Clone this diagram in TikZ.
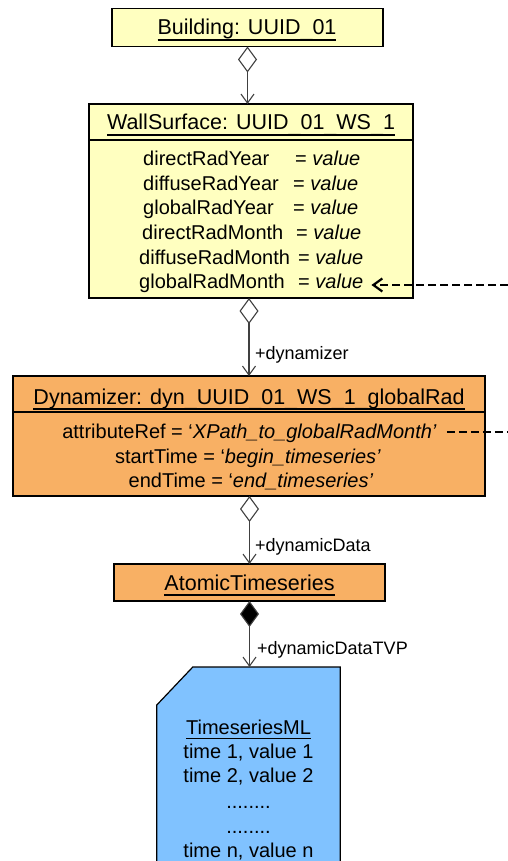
\documentclass[tikz,border=0pt]{standalone}
\usepackage{fontspec}
\setmainfont{Liberation Sans}
\usetikzlibrary{arrows.meta,calc}
\definecolor{umlyellow}{RGB}{255,255,192}
\definecolor{umlorange}{RGB}{248,176,100}
\definecolor{umlblue}{RGB}{128,194,255}
\definecolor{conn}{RGB}{64,64,64}
\newsavebox{\ulbox}
\newcommand{\myul}[1]{\sbox{\ulbox}{#1}\rlap{\usebox{\ulbox}}\rule[-0.27em]{\wd\ulbox}{0.065em}}
\newcommand{\usc}{\raisebox{-0.05em}{\_}}
\begin{document}
\begin{tikzpicture}[x=1pt,y=-1pt,
  box/.style={draw=black, line width=1.2pt, inner sep=0pt, outer sep=0pt},
  ttl/.style={font=\fontsize{21.5}{26}\selectfont, inner sep=0pt},
  attr/.style={font=\fontsize{20}{24}\selectfont, inner sep=0pt},
  lbl/.style={font=\fontsize{18}{22}\selectfont, inner sep=0pt, anchor=west},
  agg/.style={draw=conn, line width=1.1pt, {Diamond[length=26pt,width=19pt,fill=white]}-{Straight Barb[length=9pt,width=13pt]}},
  comp/.style={draw=conn, line width=1.1pt, {Diamond[length=26pt,width=19pt,fill=black]}-{Straight Barb[length=9pt,width=13pt]}},
  ref/.style={draw=black, line width=2.2pt, dash pattern=on 8pt off 4pt},
]
\useasboundingbox (0,0) rectangle (508,861);

% Building
\node[box, fill=umlyellow, minimum width=271pt, minimum height=38pt] (bld) at (247.5,27.5) {};
\node[ttl, anchor=base] (bldT) at (247,35) {\myul{Building: UUID\usc 01}};

% WallSurface
\node[box, fill=umlyellow, minimum width=324pt, minimum height=194pt] (ws) at (251,201) {};
\draw[line width=1.2pt] ([yshift=-36pt]ws.north west) -- ([yshift=-36pt]ws.north east);
\node[ttl, anchor=base] (wsT) at (251,130) {\myul{WallSurface: UUID\usc 01\usc WS\usc 1}};
\node[attr, anchor=base west] (n1) at (143,165) {directRadYear};
\node[attr, anchor=base west] (n2) at (143,190) {diffuseRadYear};
\node[attr, anchor=base west] (n3) at (143,214) {globalRadYear};
\node[attr, anchor=base west] (n4) at (142,239) {directRadMonth};
\node[attr, anchor=base west] (n5) at (139,264) {diffuseRadMonth};
\node[attr, anchor=base west] (n6) at (139,288) {globalRadMonth};
\node[attr, anchor=base west] (v1) at (295,165) {= \textit{value}};
\node[attr, anchor=base west] (v2) at (293,190) {= \textit{value}};
\node[attr, anchor=base west] (v3) at (293,214) {= \textit{value}};
\node[attr, anchor=base west] (v4) at (296,239) {= \textit{value}};
\node[attr, anchor=base west] (v5) at (298,264) {= \textit{value}};
\node[attr, anchor=base west] (gmv) at (298,288) {= \textit{value}};

% Dynamizer
\node[box, fill=umlorange, minimum width=472pt, minimum height=120pt] (dyn) at (249,436) {};
\draw[line width=1.2pt] ([yshift=-36pt]dyn.north west) -- ([yshift=-36pt]dyn.north east);
\node[ttl, anchor=base] (dynT) at (249,404) {\myul{Dynamizer: dyn\usc UUID\usc 01\usc WS\usc 1\usc globalRad}};
\node[attr, anchor=base] (aref) at (249.5,438) {attributeRef = ‘\textit{XPath\_to\_globalRadMonth’}};
\node[attr, anchor=base] (stt) at (248,463) {startTime = ‘\textit{begin\_timeseries’}};
\node[attr, anchor=base] (edt) at (251,487) {endTime = ‘\textit{end\_timeseries’}};

% AtomicTimeseries
\node[box, fill=umlorange, minimum width=271pt, minimum height=37pt] (ats) at (249.5,582.5) {};
\node[ttl, anchor=base] (atsT) at (249.5,590) {\myul{AtomicTimeseries}};

% TimeseriesML
\node[inner sep=0pt, minimum width=183pt, minimum height=230pt, anchor=north] (tml) at (248.5,667) {};
\filldraw[fill=umlblue, draw=black, line width=1.2pt]
  ([xshift=36pt]tml.north west) -- (tml.north east) -- (tml.south east)
  -- (tml.south west) -- ([yshift=-38pt]tml.north west) -- cycle;
\node[attr, anchor=base] (tmlT) at (248.5,734) {\myul{TimeseriesML}};
\node[attr, anchor=base] (t1) at (248.5,758) {time 1, value 1};
\node[attr, anchor=base] (t2) at (248.5,782) {time 2, value 2};
\node[attr, anchor=base] (d1) at (248.5,808) {........};
\node[attr, anchor=base] (d2) at (248.5,833) {........};
\node[attr, anchor=base] (tn) at (248.5,857) {time n, value n};

% connectors
\draw[agg] (bld.south) -- (bld.south |- ws.north);
\draw[agg] (dyn.north |- ws.south) -- (dyn.north);
\node[lbl] (lbDyn) at (255,355) {+dynamizer};
\draw[agg] (ats.north |- dyn.south) -- (ats.north);
\node[lbl] (lbDD) at (255,547) {+dynamicData};
\draw[comp] (ats.south) -- (ats.south |- tml.north);
\node[lbl] (lbTVP) at (257,650) {+dynamicDataTVP};

% dashed references
\coordinate (ext1) at (508,285);
\coordinate (gmvE) at ([xshift=8pt]gmv.east);
\draw[ref, -{Straight Barb[length=9pt,width=13pt]}] (ext1) -- (gmvE |- ext1);
\coordinate (ext2) at (508,432);
\coordinate (arefE) at ([xshift=10pt]aref.east);
\draw[ref] (arefE |- ext2) -- (ext2);
\end{tikzpicture}
\end{document}
